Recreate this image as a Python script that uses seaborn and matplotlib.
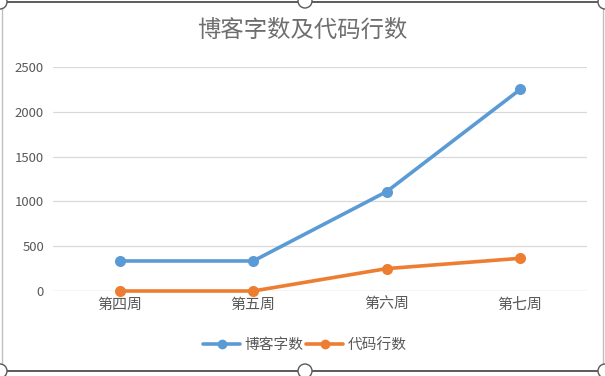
import matplotlib
matplotlib.use("Agg")
import matplotlib.pyplot as plt
import seaborn as sns
import pandas as pd
from matplotlib.patches import Circle

weeks = ["第四周", "第五周", "第六周", "第七周"]
series_names = ["博客字数", "代码行数"]
blog_words = [335, 335, 1110, 2250]
code_lines = [0, 0, 250, 365]
yticks = [0, 500, 1000, 1500, 2000, 2500]
colors = ["#5B9BD5", "#ED7D31"]

df = pd.DataFrame({
    "week": weeks * 2,
    "value": blog_words + code_lines,
    "series": [series_names[0]] * len(weeks) + [series_names[1]] * len(weeks),
})

sns.set_theme(style="white")
plt.rcParams["font.family"] = ["Noto Sans CJK SC", "DejaVu Sans"]

W, H = 605, 376
fig = plt.figure(figsize=(W / 100, H / 100), dpi=100)
ax = fig.add_axes([53 / W, (H - 291) / H, (587 - 53) / W, (291 - 67) / H])

sns.pointplot(data=df, x="week", y="value", hue="series", order=weeks,
              hue_order=series_names, palette=colors, markers="o",
              markersize=6, linewidth=2.6, errorbar=None, ax=ax, legend=False)
for line in ax.lines:
    line.set_clip_on(False)
    line.set_zorder(3)

ax.set_xlim(-0.5, len(weeks) - 0.5)
ax.set_ylim(0, 2500)
ax.set_yticks(yticks)
ax.set_yticklabels([str(v) for v in yticks])
ax.set_xlabel("")
ax.set_ylabel("")
ax.grid(axis="y", color="#D9D9D9", linewidth=0.9)
ax.grid(axis="x", visible=False)
for s in ax.spines.values():
    s.set_visible(False)
ax.axhline(0, color="#D9D9D9", linewidth=0.9, zorder=1)
ax.tick_params(axis="both", length=0, colors="#595959")
ax.tick_params(axis="y", pad=6.5, labelsize=9.5)
ax.tick_params(axis="x", pad=5, labelsize=10.8)

fig.text(0.5, (H - 30) / H, "博客字数及代码行数", ha="center", va="center",
         fontsize=16.8, color="#6E6E6E")

handles = [plt.Line2D([], [], color=c, linewidth=2.6, marker="o", markersize=6)
           for c in colors]
fig.legend(handles, series_names, loc="center", bbox_to_anchor=(305 / W, (H - 345) / H),
           ncol=2, frameon=False, fontsize=10.6, handlelength=2.5, handletextpad=0.3,
           columnspacing=0.2, labelcolor="#595959")

# selected chart frame with handles (overlay in pixel units)
ov = fig.add_axes([0, 0, 1, 1], facecolor="none")
ov.set_xlim(0, W)
ov.set_ylim(H, 0)
ov.axis("off")
ov.plot([6, W - 2], [2, 2], color="#404040", linewidth=1.2)
ov.plot([0, W], [371, 371], color="#404040", linewidth=1.2)
ov.plot([2, 2], [8, 365], color="#BFBFBF", linewidth=1.0)
ov.plot([W - 2, W - 2], [8, 365], color="#BFBFBF", linewidth=1.0)
for (px, py) in [(305, 1), (305, 371), (0, 2), (W, 2), (0, 371), (W, 371)]:
    ov.add_patch(Circle((px, py), 7, facecolor="white", edgecolor="#595959",
                        linewidth=1.0, zorder=5, clip_on=False))

fig.savefig("out.png", dpi=100)
